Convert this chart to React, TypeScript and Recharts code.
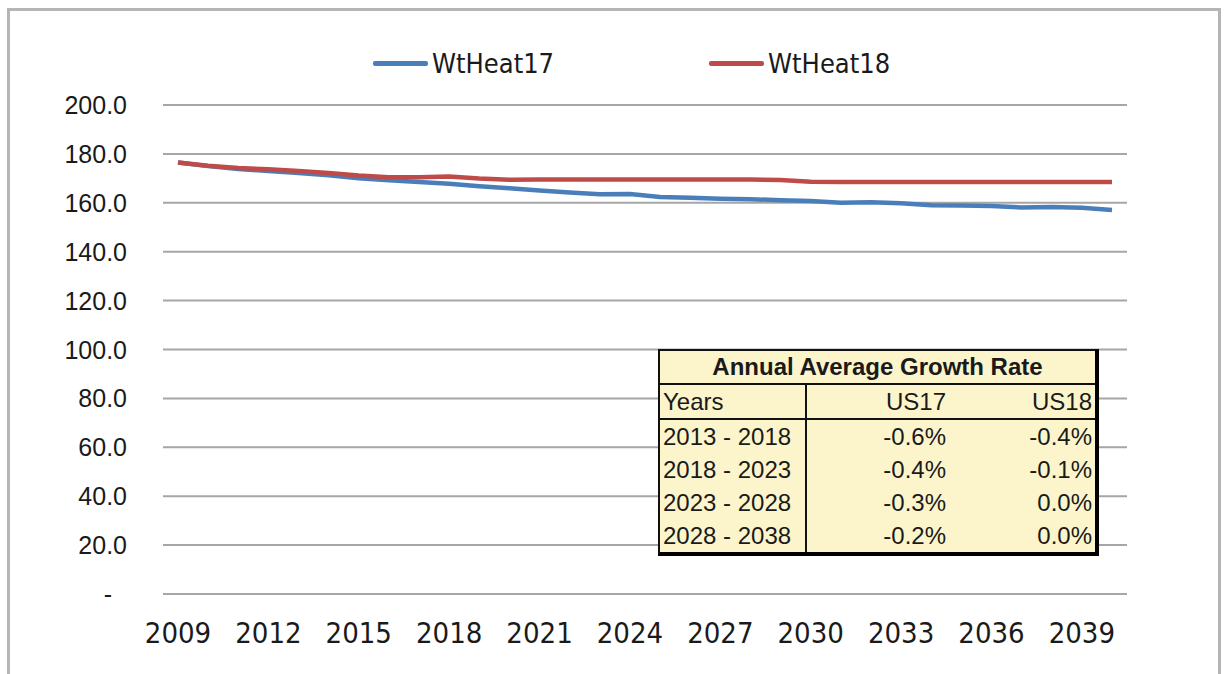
import React from "react";
import { LineChart, Line, XAxis, YAxis, CartesianGrid, Legend } from "recharts";

const years = [
  2009, 2010, 2011, 2012, 2013, 2014, 2015, 2016, 2017, 2018, 2019, 2020, 2021, 2022, 2023, 2024,
  2025, 2026, 2027, 2028, 2029, 2030, 2031, 2032, 2033, 2034, 2035, 2036, 2037, 2038, 2039, 2040,
];

const wtHeat17 = [
  176.5, 175.0, 173.8, 173.0, 172.2, 171.3, 170.0, 169.2, 168.5, 167.8, 166.8, 166.0, 165.0, 164.2,
  163.5, 163.6, 162.4, 162.1, 161.7, 161.5, 161.0, 160.7, 160.0, 160.2, 159.8, 159.0, 158.9, 158.7,
  158.1, 158.3, 158.0, 157.1,
];

const wtHeat18 = [
  176.5, 175.2, 174.2, 173.7, 173.0, 172.2, 171.2, 170.5, 170.4, 170.8, 169.9, 169.4, 169.5, 169.5,
  169.5, 169.5, 169.5, 169.5, 169.5, 169.5, 169.3, 168.6, 168.5, 168.5, 168.5, 168.5, 168.5, 168.5,
  168.5, 168.5, 168.5, 168.5,
];

const yTicks = [0, 20, 40, 60, 80, 100, 120, 140, 160, 180, 200];

const seriesNames = ["WtHeat17", "WtHeat18"];
const seriesColors = ["#4a7ebb", "#be4b48"];

// growth-rate table
const tableTitle = "Annual Average Growth Rate";
const tableHeader = ["Years", "US17", "US18"];
const periods = ["2013 - 2018", "2018 - 2023", "2023 - 2028", "2028 - 2038"];
const us17Rates = ["-0.6%", "-0.4%", "-0.3%", "-0.2%"];
const us18Rates = ["-0.4%", "-0.1%", "0.0%", "0.0%"];

const data = years.map((year, i) => ({
  year,
  WtHeat17: wtHeat17[i],
  WtHeat18: wtHeat18[i],
}));

function YTick(props: any) {
  const { x, y, payload } = props;
  const v = payload.value as number;
  return (
    <text
      x={v === 0 ? x - 15 : x}
      y={y}
      dy="0.36em"
      textAnchor="end"
      fill="#1a1a1a"
      fontSize={25}
      fontFamily="'Liberation Sans', Arial, sans-serif"
    >
      {v === 0 ? "-" : v.toFixed(1)}
    </text>
  );
}

function LegendContent() {
  return (
    <div style={{ display: "flex", justifyContent: "flex-start", paddingLeft: 373 }}>
      {seriesNames.map((name, i) => (
        <div key={name} style={{ display: "flex", alignItems: "center", marginRight: i === 0 ? 155 : 0 }}>
          <div style={{ width: 55, height: 5, background: seriesColors[i], borderRadius: 2 }} />
          <span
            style={{
              marginLeft: 4,
              fontFamily: "'Liberation Sans Narrow', 'DejaVu Sans Condensed', sans-serif",
              fontSize: 27,
              color: "#1a1a1a",
            }}
          >
            {name}
          </span>
        </div>
      ))}
    </div>
  );
}

const cellFont: React.CSSProperties = {
  fontFamily: "'Liberation Sans', Arial, sans-serif",
  fontSize: 24,
  color: "#1a1a1a",
  lineHeight: "33px",
  padding: "0 3px",
  whiteSpace: "nowrap",
};

function GrowthTable() {
  return (
    <div
      style={{
        position: "absolute",
        left: 658,
        top: 349,
        width: 441,
        background: "#fcf5cb",
        border: "2px solid #111",
        borderRight: "4px solid #000",
        borderBottom: "4px solid #000",
        boxSizing: "border-box",
      }}
    >
      <div style={{ ...cellFont, fontWeight: "bold", textAlign: "center", borderBottom: "2px solid #111", lineHeight: "32px" }}>
        {tableTitle}
      </div>
      <div style={{ display: "grid", gridTemplateColumns: "147px 142px 1fr" }}>
        <div style={{ ...cellFont, borderRight: "2px solid #111", borderBottom: "2px solid #111" }}>
          {tableHeader[0]}
        </div>
        <div style={{ ...cellFont, textAlign: "right", borderBottom: "2px solid #111" }}>{tableHeader[1]}</div>
        <div style={{ ...cellFont, textAlign: "right", borderBottom: "2px solid #111" }}>{tableHeader[2]}</div>
        {periods.map((p, i) => (
          <React.Fragment key={p}>
            <div style={{ ...cellFont, borderRight: "2px solid #111" }}>{p}</div>
            <div style={{ ...cellFont, textAlign: "right" }}>{us17Rates[i]}</div>
            <div style={{ ...cellFont, textAlign: "right" }}>{us18Rates[i]}</div>
          </React.Fragment>
        ))}
      </div>
    </div>
  );
}

export default function App() {
  return (
    <div style={{ position: "absolute", left: 0, top: 0, width: 1230, height: 674, background: "#fff", overflow: "hidden" }}>
      <div
        style={{
          position: "absolute",
          left: 7,
          top: 8,
          width: 1214,
          height: 700,
          border: "3px solid #b5b5b5",
          boxSizing: "border-box",
        }}
      />
      <LineChart
        width={1230}
        height={674}
        data={data}
        margin={{ top: 105, right: 103, bottom: 20, left: 0 }}
        style={{ position: "absolute", left: 0, top: 0 }}
      >
        <CartesianGrid vertical={false} stroke="#a6a6a6" strokeWidth={2} />
        <XAxis
          dataKey="year"
          interval={2}
          padding={{ left: 15, right: 15 }}
          axisLine={false}
          tickLine={false}
          tickSize={0}
          tickMargin={28}
          height={60}
          tick={{ fill: "#1a1a1a", fontSize: 29, fontFamily: "'Liberation Sans Narrow', 'DejaVu Sans Condensed', sans-serif" }}
        />
        <YAxis
          domain={[0, 200]}
          ticks={yTicks}
          width={163}
          axisLine={false}
          tickLine={false}
          tickSize={0}
          tickMargin={36}
          tick={<YTick />}
        />
        <Legend
          layout="horizontal"
          verticalAlign="middle"
          align="center"
          wrapperStyle={{ top: 48, left: 0, width: 1230 }}
          content={<LegendContent />}
        />
        <Line
          type="linear"
          dataKey="WtHeat17"
          name={seriesNames[0]}
          stroke={seriesColors[0]}
          strokeWidth={4.5}
          dot={false}
          isAnimationActive={false}
        />
        <Line
          type="linear"
          dataKey="WtHeat18"
          name={seriesNames[1]}
          stroke={seriesColors[1]}
          strokeWidth={4.5}
          dot={false}
          isAnimationActive={false}
        />
      </LineChart>
      <GrowthTable />
    </div>
  );
}
